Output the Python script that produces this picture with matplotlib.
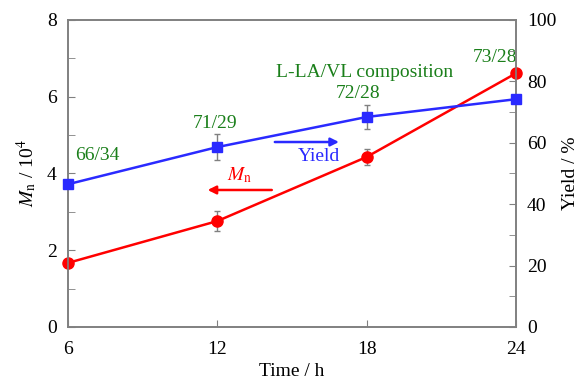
import matplotlib
matplotlib.use('Agg')
import matplotlib.pyplot as plt
from matplotlib.ticker import MultipleLocator

plt.rcParams['font.family'] = ['Liberation Serif', 'DejaVu Serif']
plt.rcParams['mathtext.fontset'] = 'stix'

time_h = [6, 12, 18, 24]
mn = [1.67, 2.76, 4.43, 6.61]
mn_err = [0, 0.25, 0.22, 0]
yield_pct = [46.5, 58.6, 68.4, 74.2]
yield_err = [0, 4.2, 4.0, 0]
compositions = ['66/34', '71/29', '72/28', '73/28']
comp_x = [7.17, 11.9, 17.65, 23.16]
comp_y = [4.48, 5.29, 6.09, 7.03]

gray = '#808080'
green = '#1a7f1a'

fig = plt.figure(figsize=(5.83, 3.82), dpi=100)
ax = fig.add_axes([0.1166, 0.144, 0.7684, 0.8037])
ax2 = ax.twinx()

ax.errorbar(time_h, mn, yerr=mn_err, color='#ff0000', marker='o', ms=8,
            lw=1.8, ecolor=gray, elinewidth=1, capsize=2.5, zorder=3, clip_on=False)
ax2.errorbar(time_h, yield_pct, yerr=yield_err, color='#2a2aff', marker='s', ms=7.5,
             lw=1.8, ecolor=gray, elinewidth=1, capsize=2.5, zorder=3, clip_on=False)

ax.set_xlim(6, 24)
ax.set_ylim(0, 8)
ax2.set_ylim(0, 100)
ax.set_xticks(time_h)
ax.yaxis.set_major_locator(MultipleLocator(2))
ax.yaxis.set_minor_locator(MultipleLocator(1))
ax2.yaxis.set_major_locator(MultipleLocator(20))
ax2.yaxis.set_minor_locator(MultipleLocator(10))

for a in (ax, ax2):
    for s in a.spines.values():
        s.set_color(gray)
        s.set_linewidth(1.2)
    a.tick_params(which='both', direction='in', color=gray, labelsize=14, pad=8)
    a.tick_params(which='major', length=5)
    a.tick_params(which='minor', length=5)
ax.tick_params(axis='x', pad=10)

ax.set_xlabel('Time / h', fontsize=14, labelpad=4)
ax.set_ylabel(r'$M_\mathrm{n}$ / 10$^4$', fontsize=14, labelpad=6)
ax2.set_ylabel('Yield / %', fontsize=14, labelpad=4)

# composition labels
for x, y, lab in zip(comp_x, comp_y, compositions):
    ax.text(x, y, lab, color=green, fontsize=14, ha='center', va='center')
ax.text(17.93, 6.64, 'L-LA/VL composition', color=green, fontsize=14, ha='center', va='center')

# series arrows
ax.annotate('', xy=(17.0, 4.82), xytext=(14.2, 4.82),
            arrowprops=dict(arrowstyle='-|>', color='#2a2aff', lw=1.8, mutation_scale=12))
ax.text(16.1, 4.43, 'Yield', color='#2a2aff', fontsize=14, ha='center', va='center')
ax.annotate('', xy=(11.5, 3.57), xytext=(14.3, 3.57),
            arrowprops=dict(arrowstyle='-|>', color='#ff0000', lw=1.8, mutation_scale=12))
ax.text(12.9, 3.95, r'$M_\mathrm{n}$', color='#ff0000', fontsize=14, ha='center', va='center')

fig.savefig('out.png', dpi=100)
